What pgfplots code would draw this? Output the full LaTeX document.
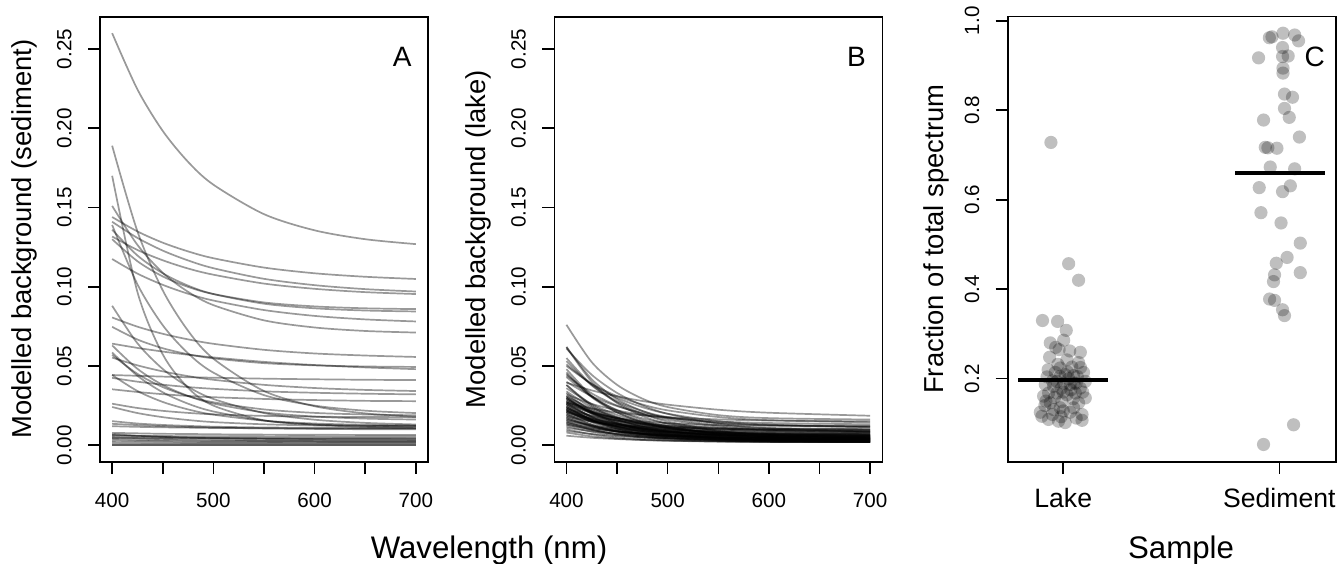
\documentclass[border=0pt]{standalone}
\usepackage{fontspec}
\setmainfont{Liberation Sans}
\usepackage{pgfplots}
\pgfplotsset{compat=1.18}
\tikzset{plab/.style={font=\fontsize{14}{16}\selectfont}}
\pgfplotsset{
  rbox/.style={
    scale only axis, width=164pt, height=222.5pt,
    axis line style={line width=0.8pt},
    major tick style={black, line width=0.8pt},
    tick align=outside, major tick length=6pt,
    xtick pos=left, ytick pos=left,
    /pgf/number format/assume math mode=true,
    tick label style={font=\fontsize{10.3}{12}\selectfont},
    yticklabel style={rotate=90, anchor=south, inner sep=0pt},
    xticklabel style={anchor=north, inner sep=0pt},
    yticklabel shift=8pt, xticklabel shift=9.5pt,
    every axis y label/.style={at={(axis description cs:-0.2088,0.5)}, rotate=90, anchor=base, font=\fontsize{13.7}{16}\selectfont},
  },
  wl/.style={
    xmin=388, xmax=712, ymin=-0.0104, ymax=0.2704,
    xtick={400,450,500,550,600,650,700}, xticklabels={400,,500,,600,,700},
    ytick={0,0.05,0.1,0.15,0.2,0.25}, yticklabels={0.00,0.05,0.10,0.15,0.20,0.25},
  },
  curve/.style={black, draw opacity=0.4, line width=0.85pt, smooth},
  dots/.style={only marks, mark=*, mark size=3.3pt, color=black,
    mark options={draw opacity=0, line width=0pt, fill=black, fill opacity=0.25}},
}
\begin{document}%
\begin{tikzpicture}
\path[use as bounding box] (0,0) rectangle (671.5pt,281.5pt);

% ---------- A: sediment ----------
\begin{axis}[rbox, wl, at={(50pt,50.65pt)}, anchor=south west,
  ylabel={Modelled background (sediment)}]
\addplot[curve] coordinates {(400,0.2600)(425,0.2245)(450,0.1983)(475,0.1788)(500,0.1644)(550,0.1458)(600,0.1356)(650,0.1300)(700,0.1269)};
\addplot[curve] coordinates {(400,0.1890)(425,0.1349)(450,0.0977)(475,0.0722)(500,0.0546)(550,0.0342)(600,0.0246)(650,0.0201)(700,0.0179)};
\addplot[curve] coordinates {(400,0.1700)(425,0.0966)(450,0.0573)(475,0.0362)(500,0.0250)(550,0.0157)(600,0.0131)(650,0.0123)(700,0.0121)};
\addplot[curve] coordinates {(400,0.1390)(425,0.1015)(450,0.0757)(475,0.0580)(500,0.0458)(550,0.0316)(600,0.0250)(650,0.0218)(700,0.0203)};
\addplot[curve] coordinates {(400,0.1440)(425,0.1349)(450,0.1278)(475,0.1223)(500,0.1180)(550,0.1121)(600,0.1085)(650,0.1063)(700,0.1049)};
\addplot[curve] coordinates {(400,0.1410)(425,0.1308)(450,0.1228)(475,0.1166)(500,0.1117)(550,0.1050)(600,0.1010)(650,0.0985)(700,0.0970)};
\addplot[curve] coordinates {(400,0.1317)(425,0.1232)(450,0.1167)(475,0.1115)(500,0.1076)(550,0.1020)(600,0.0987)(650,0.0966)(700,0.0954)};
\addplot[curve] coordinates {(400,0.1300)(425,0.1161)(450,0.1065)(475,0.0999)(500,0.0954)(550,0.0901)(600,0.0876)(650,0.0864)(700,0.0859)};
\addplot[curve] coordinates {(400,0.1360)(425,0.1197)(450,0.1085)(475,0.1007)(500,0.0954)(550,0.0893)(600,0.0864)(650,0.0850)(700,0.0844)};
\addplot[curve] coordinates {(400,0.1175)(425,0.1083)(450,0.1012)(475,0.0956)(500,0.0913)(550,0.0853)(600,0.0816)(650,0.0794)(700,0.0781)};
\addplot[curve] coordinates {(400,0.1510)(425,0.1264)(450,0.1088)(475,0.0968)(500,0.0884)(550,0.0788)(600,0.0743)(650,0.0721)(700,0.0711)};
\addplot[curve] coordinates {(400,0.0880)(425,0.0643)(450,0.0481)(475,0.0369)(500,0.0292)(550,0.0203)(600,0.0161)(650,0.0141)(700,0.0131)};
\addplot[curve] coordinates {(400,0.0806)(425,0.0748)(450,0.0703)(475,0.0668)(500,0.0640)(550,0.0602)(600,0.0579)(650,0.0566)(700,0.0557)};
\addplot[curve] coordinates {(400,0.0747)(425,0.0667)(450,0.0612)(475,0.0574)(500,0.0548)(550,0.0518)(600,0.0504)(650,0.0497)(700,0.0494)};
\addplot[curve] coordinates {(400,0.0641)(425,0.0614)(450,0.0591)(475,0.0571)(500,0.0554)(550,0.0526)(600,0.0506)(650,0.0491)(700,0.0480)};
\addplot[curve] coordinates {(400,0.0630)(425,0.0482)(450,0.0380)(475,0.0311)(500,0.0263)(550,0.0207)(600,0.0181)(650,0.0168)(700,0.0162)};
\addplot[curve] coordinates {(400,0.0570)(425,0.0450)(450,0.0367)(475,0.0310)(500,0.0271)(550,0.0226)(600,0.0204)(650,0.0194)(700,0.0189)};
\addplot[curve] coordinates {(400,0.0553)(425,0.0504)(450,0.0466)(475,0.0436)(500,0.0413)(550,0.0381)(600,0.0361)(650,0.0349)(700,0.0342)};
\addplot[curve] coordinates {(400,0.0443)(425,0.0438)(450,0.0433)(475,0.0429)(500,0.0426)(550,0.0420)(600,0.0416)(650,0.0413)(700,0.0411)};
\addplot[curve] coordinates {(400,0.0425)(425,0.0401)(450,0.0382)(475,0.0367)(500,0.0356)(550,0.0340)(600,0.0331)(650,0.0325)(700,0.0321)};
\addplot[curve] coordinates {(400,0.0353)(425,0.0336)(450,0.0322)(475,0.0311)(500,0.0303)(550,0.0292)(600,0.0285)(650,0.0280)(700,0.0278)};
\addplot[curve] coordinates {(400,0.0262)(425,0.0235)(450,0.0217)(475,0.0204)(500,0.0195)(550,0.0185)(600,0.0180)(650,0.0178)(700,0.0177)};
\addplot[curve] coordinates {(400,0.0241)(425,0.0203)(450,0.0177)(475,0.0159)(500,0.0146)(550,0.0132)(600,0.0125)(650,0.0122)(700,0.0120)};
\addplot[curve] coordinates {(400,0.0152)(425,0.0137)(450,0.0128)(475,0.0122)(500,0.0117)(550,0.0112)(600,0.0110)(650,0.0109)(700,0.0108)};
\addplot[curve] coordinates {(400,0.0135)(425,0.0127)(450,0.0120)(475,0.0115)(500,0.0112)(550,0.0106)(600,0.0103)(650,0.0101)(700,0.0100)};
\addplot[curve] coordinates {(400,0.0120)(425,0.0116)(450,0.0113)(475,0.0111)(500,0.0109)(550,0.0107)(600,0.0106)(650,0.0105)(700,0.0105)};
\addplot[curve] coordinates {(400,0.0078)(425,0.0075)(450,0.0072)(475,0.0071)(500,0.0069)(550,0.0067)(600,0.0066)(650,0.0065)(700,0.0065)};
\addplot[curve] coordinates {(400,0.0065)(425,0.0057)(450,0.0052)(475,0.0048)(500,0.0046)(550,0.0043)(600,0.0041)(650,0.0041)(700,0.0040)};
\addplot[curve] coordinates {(400,0.0060)(425,0.0059)(450,0.0058)(475,0.0057)(500,0.0057)(550,0.0056)(600,0.0056)(650,0.0055)(700,0.0055)};
\addplot[curve] coordinates {(400,0.0052)(425,0.0045)(450,0.0040)(475,0.0037)(500,0.0035)(550,0.0032)(600,0.0031)(650,0.0030)(700,0.0030)};
\addplot[curve] coordinates {(400,0.0045)(425,0.0045)(450,0.0045)(475,0.0045)(500,0.0045)(550,0.0045)(600,0.0045)(650,0.0045)(700,0.0045)};
\addplot[curve] coordinates {(400,0.0040)(425,0.0035)(450,0.0032)(475,0.0030)(500,0.0028)(550,0.0027)(600,0.0026)(650,0.0025)(700,0.0025)};
\addplot[curve] coordinates {(400,0.0030)(425,0.0027)(450,0.0025)(475,0.0023)(500,0.0022)(550,0.0021)(600,0.0021)(650,0.0020)(700,0.0020)};
\addplot[curve] coordinates {(400,0.0020)(425,0.0018)(450,0.0017)(475,0.0016)(500,0.0016)(550,0.0015)(600,0.0015)(650,0.0015)(700,0.0015)};
\addplot[curve] coordinates {(400,0.0010)(425,0.0010)(450,0.0010)(475,0.0010)(500,0.0010)(550,0.0010)(600,0.0010)(650,0.0010)(700,0.0010)};
\addplot[curve] coordinates {(400,0.0000)(425,0.0000)(450,0.0000)(475,0.0000)(500,0.0000)(550,0.0000)(600,0.0000)(650,0.0000)(700,0.0000)};
\addplot[curve] coordinates {(400,0.0001)(425,0.0001)(450,0.0001)(475,0.0001)(500,0.0001)(550,0.0001)(600,0.0001)(650,0.0001)(700,0.0001)};
\addplot[curve] coordinates {(400,0.0070)(425,0.0060)(450,0.0053)(475,0.0048)(500,0.0044)(550,0.0040)(600,0.0037)(650,0.0036)(700,0.0035)};
\addplot[curve] coordinates {(400,0.0585)(425,0.0438)(450,0.0334)(475,0.0262)(500,0.0213)(550,0.0156)(600,0.0129)(650,0.0116)(700,0.0110)};
\addplot[curve] coordinates {(400,0.0443)(425,0.0342)(450,0.0273)(475,0.0226)(500,0.0193)(550,0.0155)(600,0.0137)(650,0.0129)(700,0.0125)};
\node[plab] at (rel axis cs:0.921,0.91) {A};
\end{axis}

% ---------- B: lake ----------
\begin{axis}[rbox, wl, at={(277.15pt,50.65pt)}, anchor=south west,
  ylabel={Modelled background (lake)}]
\addplot[curve] coordinates {(400,0.0760)(425,0.0524)(450,0.0381)(475,0.0294)(500,0.0241)(550,0.0190)(600,0.0171)(700,0.0162)};
\addplot[curve] coordinates {(400,0.0395)(425,0.0346)(450,0.0309)(475,0.0279)(500,0.0256)(550,0.0224)(600,0.0205)(700,0.0186)};
\addplot[curve] coordinates {(400,0.0620)(425,0.0416)(450,0.0291)(475,0.0216)(500,0.0170)(550,0.0126)(600,0.0109)(700,0.0101)};
\addplot[curve] coordinates {(400,0.0620)(425,0.0400)(450,0.0266)(475,0.0185)(500,0.0136)(550,0.0088)(600,0.0070)(700,0.0061)};
\addplot[curve] coordinates {(400,0.0610)(425,0.0444)(450,0.0330)(475,0.0252)(500,0.0198)(550,0.0136)(600,0.0107)(700,0.0086)};
\addplot[curve] coordinates {(400,0.0550)(425,0.0381)(450,0.0278)(475,0.0216)(500,0.0178)(550,0.0142)(600,0.0128)(700,0.0121)};
\addplot[curve] coordinates {(400,0.0530)(425,0.0377)(450,0.0271)(475,0.0199)(500,0.0149)(550,0.0091)(600,0.0065)(700,0.0045)};
\addplot[curve] coordinates {(400,0.0500)(425,0.0387)(450,0.0310)(475,0.0257)(500,0.0220)(550,0.0178)(600,0.0158)(700,0.0144)};
\addplot[curve] coordinates {(400,0.0480)(425,0.0311)(450,0.0208)(475,0.0146)(500,0.0108)(550,0.0072)(600,0.0058)(700,0.0051)};
\addplot[curve] coordinates {(400,0.0450)(425,0.0309)(450,0.0222)(475,0.0170)(500,0.0139)(550,0.0108)(600,0.0096)(700,0.0091)};
\addplot[curve] coordinates {(400,0.0430)(425,0.0305)(450,0.0219)(475,0.0160)(500,0.0119)(550,0.0072)(600,0.0050)(700,0.0034)};
\addplot[curve] coordinates {(400,0.0400)(425,0.0309)(450,0.0247)(475,0.0204)(500,0.0175)(550,0.0140)(600,0.0125)(700,0.0113)};
\addplot[curve] coordinates {(400,0.0380)(425,0.0254)(450,0.0178)(475,0.0131)(500,0.0103)(550,0.0076)(600,0.0066)(700,0.0061)};
\addplot[curve] coordinates {(400,0.0360)(425,0.0260)(450,0.0191)(475,0.0144)(500,0.0111)(550,0.0074)(600,0.0056)(700,0.0044)};
\addplot[curve] coordinates {(400,0.0340)(425,0.0238)(450,0.0176)(475,0.0138)(500,0.0115)(550,0.0093)(600,0.0085)(700,0.0081)};
\addplot[curve] coordinates {(400,0.0330)(425,0.0212)(450,0.0140)(475,0.0097)(500,0.0071)(550,0.0045)(600,0.0035)(700,0.0031)};
\addplot[curve] coordinates {(400,0.0320)(425,0.0261)(450,0.0220)(475,0.0192)(500,0.0172)(550,0.0150)(600,0.0140)(700,0.0132)};
\addplot[curve] coordinates {(400,0.0310)(425,0.0229)(450,0.0173)(475,0.0135)(500,0.0108)(550,0.0077)(600,0.0063)(700,0.0053)};
\addplot[curve] coordinates {(400,0.0300)(425,0.0210)(450,0.0155)(475,0.0121)(500,0.0101)(550,0.0082)(600,0.0074)(700,0.0071)};
\addplot[curve] coordinates {(400,0.0300)(425,0.0198)(450,0.0136)(475,0.0098)(500,0.0075)(550,0.0053)(600,0.0045)(700,0.0041)};
\addplot[curve] coordinates {(400,0.0290)(425,0.0215)(450,0.0170)(475,0.0142)(500,0.0126)(550,0.0110)(600,0.0103)(700,0.0100)};
\addplot[curve] coordinates {(400,0.0290)(425,0.0205)(450,0.0147)(475,0.0108)(500,0.0080)(550,0.0048)(600,0.0034)(700,0.0023)};
\addplot[curve] coordinates {(400,0.0280)(425,0.0211)(450,0.0164)(475,0.0132)(500,0.0109)(550,0.0083)(600,0.0071)(700,0.0062)};
\addplot[curve] coordinates {(400,0.0270)(425,0.0176)(450,0.0118)(475,0.0084)(500,0.0062)(550,0.0042)(600,0.0034)(700,0.0031)};
\addplot[curve] coordinates {(400,0.0270)(425,0.0211)(450,0.0170)(475,0.0142)(500,0.0122)(550,0.0100)(600,0.0090)(700,0.0082)};
\addplot[curve] coordinates {(400,0.0260)(425,0.0177)(450,0.0127)(475,0.0097)(500,0.0078)(550,0.0061)(600,0.0054)(700,0.0051)};
\addplot[curve] coordinates {(400,0.0260)(425,0.0205)(450,0.0172)(475,0.0151)(500,0.0139)(550,0.0127)(600,0.0123)(700,0.0120)};
\addplot[curve] coordinates {(400,0.0250)(425,0.0160)(450,0.0105)(475,0.0071)(500,0.0051)(550,0.0032)(600,0.0024)(700,0.0021)};
\addplot[curve] coordinates {(400,0.0250)(425,0.0184)(450,0.0139)(475,0.0108)(500,0.0087)(550,0.0062)(600,0.0051)(700,0.0042)};
\addplot[curve] coordinates {(400,0.0240)(425,0.0173)(450,0.0133)(475,0.0108)(500,0.0093)(550,0.0079)(600,0.0073)(700,0.0070)};
\addplot[curve] coordinates {(400,0.0240)(425,0.0157)(450,0.0107)(475,0.0077)(500,0.0058)(550,0.0041)(600,0.0034)(700,0.0031)};
\addplot[curve] coordinates {(400,0.0230)(425,0.0186)(450,0.0156)(475,0.0136)(500,0.0121)(550,0.0105)(600,0.0097)(700,0.0092)};
\addplot[curve] coordinates {(400,0.0230)(425,0.0159)(450,0.0116)(475,0.0090)(500,0.0074)(550,0.0059)(600,0.0053)(700,0.0050)};
\addplot[curve] coordinates {(400,0.0230)(425,0.0164)(450,0.0119)(475,0.0088)(500,0.0067)(550,0.0042)(600,0.0031)(700,0.0022)};
\addplot[curve] coordinates {(400,0.0220)(425,0.0157)(450,0.0119)(475,0.0096)(500,0.0082)(550,0.0068)(600,0.0063)(700,0.0060)};
\addplot[curve] coordinates {(400,0.0220)(425,0.0149)(450,0.0106)(475,0.0080)(500,0.0064)(550,0.0049)(600,0.0043)(700,0.0040)};
\addplot[curve] coordinates {(400,0.0210)(425,0.0154)(450,0.0115)(475,0.0089)(500,0.0070)(550,0.0049)(600,0.0039)(700,0.0032)};
\addplot[curve] coordinates {(400,0.0210)(425,0.0159)(450,0.0128)(475,0.0109)(500,0.0098)(550,0.0087)(600,0.0082)(700,0.0080)};
\addplot[curve] coordinates {(400,0.0200)(425,0.0129)(450,0.0086)(475,0.0060)(500,0.0044)(550,0.0029)(600,0.0023)(700,0.0020)};
\addplot[curve] coordinates {(400,0.0200)(425,0.0153)(450,0.0121)(475,0.0099)(500,0.0083)(550,0.0066)(600,0.0058)(700,0.0052)};
\addplot[curve] coordinates {(400,0.0190)(425,0.0131)(450,0.0095)(475,0.0073)(500,0.0060)(550,0.0048)(600,0.0043)(700,0.0040)};
\addplot[curve] coordinates {(400,0.0190)(425,0.0149)(450,0.0121)(475,0.0102)(500,0.0089)(550,0.0074)(600,0.0067)(700,0.0061)};
\addplot[curve] coordinates {(400,0.0180)(425,0.0121)(450,0.0085)(475,0.0063)(500,0.0050)(550,0.0038)(600,0.0033)(700,0.0030)};
\addplot[curve] coordinates {(400,0.0180)(425,0.0149)(450,0.0129)(475,0.0118)(500,0.0111)(550,0.0104)(600,0.0101)(700,0.0100)};
\addplot[curve] coordinates {(400,0.0170)(425,0.0123)(450,0.0091)(475,0.0069)(500,0.0053)(550,0.0036)(600,0.0028)(700,0.0022)};
\addplot[curve] coordinates {(400,0.0170)(425,0.0119)(450,0.0088)(475,0.0069)(500,0.0058)(550,0.0047)(600,0.0042)(700,0.0040)};
\addplot[curve] coordinates {(400,0.0160)(425,0.0125)(450,0.0103)(475,0.0090)(500,0.0082)(550,0.0075)(600,0.0072)(700,0.0070)};
\addplot[curve] coordinates {(400,0.0160)(425,0.0119)(450,0.0091)(475,0.0072)(500,0.0059)(550,0.0044)(600,0.0037)(700,0.0031)};
\addplot[curve] coordinates {(400,0.0150)(425,0.0111)(450,0.0087)(475,0.0072)(500,0.0064)(550,0.0055)(600,0.0052)(700,0.0050)};
\addplot[curve] coordinates {(400,0.0150)(425,0.0099)(450,0.0068)(475,0.0049)(500,0.0038)(550,0.0027)(600,0.0022)(700,0.0020)};
\addplot[curve] coordinates {(400,0.0140)(425,0.0109)(450,0.0087)(475,0.0073)(500,0.0062)(550,0.0051)(600,0.0045)(700,0.0041)};
\addplot[curve] coordinates {(400,0.0140)(425,0.0097)(450,0.0070)(475,0.0055)(500,0.0045)(550,0.0036)(600,0.0032)(700,0.0030)};
\addplot[curve] coordinates {(400,0.0130)(425,0.0102)(450,0.0086)(475,0.0076)(500,0.0069)(550,0.0064)(600,0.0061)(700,0.0060)};
\addplot[curve] coordinates {(400,0.0130)(425,0.0096)(450,0.0072)(475,0.0056)(500,0.0045)(550,0.0032)(600,0.0026)(700,0.0021)};
\addplot[curve] coordinates {(400,0.0120)(425,0.0085)(450,0.0063)(475,0.0050)(500,0.0042)(550,0.0035)(600,0.0032)(700,0.0030)};
\addplot[curve] coordinates {(400,0.0110)(425,0.0088)(450,0.0073)(475,0.0063)(500,0.0056)(550,0.0047)(600,0.0044)(700,0.0041)};
\addplot[curve] coordinates {(400,0.0100)(425,0.0069)(450,0.0049)(475,0.0038)(500,0.0031)(550,0.0024)(600,0.0021)(700,0.0020)};
\addplot[curve] coordinates {(400,0.0090)(425,0.0071)(450,0.0058)(475,0.0050)(500,0.0043)(550,0.0036)(600,0.0033)(700,0.0031)};
\addplot[curve] coordinates {(400,0.0080)(425,0.0056)(450,0.0042)(475,0.0033)(500,0.0028)(550,0.0023)(600,0.0021)(700,0.0020)};
\addplot[curve] coordinates {(400,0.0060)(425,0.0047)(450,0.0039)(475,0.0033)(500,0.0029)(550,0.0024)(600,0.0022)(700,0.0020)};
\addplot[curve] coordinates {(400,0.0300)(425,0.0202)(450,0.0142)(475,0.0106)(500,0.0084)(550,0.0063)(600,0.0055)(700,0.0051)};
\addplot[curve] coordinates {(400,0.0310)(425,0.0222)(450,0.0162)(475,0.0121)(500,0.0092)(550,0.0059)(600,0.0044)(700,0.0033)};
\addplot[curve] coordinates {(400,0.0260)(425,0.0181)(450,0.0134)(475,0.0105)(500,0.0087)(550,0.0070)(600,0.0064)(700,0.0061)};
\addplot[curve] coordinates {(400,0.0280)(425,0.0205)(450,0.0153)(475,0.0118)(500,0.0094)(550,0.0065)(600,0.0052)(700,0.0043)};
\addplot[curve] coordinates {(400,0.0220)(425,0.0167)(450,0.0130)(475,0.0105)(500,0.0088)(550,0.0068)(600,0.0059)(700,0.0052)};
\addplot[curve] coordinates {(400,0.0220)(425,0.0145)(450,0.0100)(475,0.0072)(500,0.0056)(550,0.0040)(600,0.0033)(700,0.0030)};
\addplot[curve] coordinates {(400,0.0210)(425,0.0166)(450,0.0136)(475,0.0116)(500,0.0101)(550,0.0085)(600,0.0077)(700,0.0072)};
\addplot[curve] coordinates {(400,0.0240)(425,0.0161)(450,0.0114)(475,0.0085)(500,0.0067)(550,0.0050)(600,0.0044)(700,0.0041)};
\addplot[curve] coordinates {(400,0.0270)(425,0.0199)(450,0.0156)(475,0.0130)(500,0.0114)(550,0.0099)(600,0.0093)(700,0.0090)};
\addplot[curve] coordinates {(400,0.0460)(425,0.0303)(450,0.0207)(475,0.0149)(500,0.0114)(550,0.0080)(600,0.0067)(700,0.0061)};
\addplot[curve] coordinates {(400,0.0510)(425,0.0385)(450,0.0299)(475,0.0240)(500,0.0199)(550,0.0152)(600,0.0130)(700,0.0114)};
\addplot[curve] coordinates {(400,0.0440)(425,0.0327)(450,0.0250)(475,0.0197)(500,0.0160)(550,0.0118)(600,0.0098)(700,0.0084)};
\addplot[curve] coordinates {(400,0.0380)(425,0.0246)(450,0.0165)(475,0.0116)(500,0.0086)(550,0.0057)(600,0.0046)(700,0.0041)};
\addplot[curve] coordinates {(400,0.0270)(425,0.0232)(450,0.0207)(475,0.0189)(500,0.0177)(550,0.0163)(600,0.0156)(700,0.0151)};
\node[plab] at (rel axis cs:0.921,0.91) {B};
\end{axis}

% ---------- C: fraction ----------
\begin{axis}[rbox, at={(503.85pt,50.65pt)}, anchor=south west,
  xmin=0.743, xmax=2.261, ymin=0.0145, ymax=1.009,
  xtick={1,2}, xticklabels={Lake,Sediment},
  xticklabel style={font=\fontsize{13.3}{16}\selectfont}, xticklabel shift=7pt,
  ytick={0.2,0.4,0.6,0.8,1.0}, yticklabels={0.2,0.4,0.6,0.8,1.0},
  ylabel={Fraction of total spectrum},
  every axis y label/.append style={at={(axis description cs:-0.196,0.5)}}]
% Lake
\addplot[dots] coordinates {
(0.943,0.728)(1.025,0.457)(1.071,0.420)(0.904,0.330)(0.974,0.328)(1.014,0.308)
(0.940,0.280)(1.002,0.286)(0.981,0.265)(1.079,0.259)(0.937,0.248)(1.017,0.242)
(1.071,0.236)(0.986,0.224)(1.040,0.226)(0.963,0.214)(1.094,0.214)(0.925,0.204)
(1.048,0.207)(1.009,0.209)(1.102,0.194)(0.917,0.187)(0.955,0.183)(1.032,0.187)
(1.079,0.179)(0.909,0.161)(0.971,0.168)(1.017,0.164)(1.102,0.157)(0.940,0.146)
(0.994,0.149)(1.071,0.146)(0.894,0.125)(0.955,0.131)(1.032,0.125)(1.087,0.120)
(0.932,0.109)(0.978,0.105)(1.009,0.102)(1.087,0.107)(0.901,0.116)(0.971,0.194)
(1.002,0.190)(1.056,0.168)(0.932,0.168)(0.986,0.135)(1.048,0.135)
(0.950,0.195)(0.990,0.178)(1.025,0.200)(1.060,0.190)(0.920,0.150)(0.960,0.158)
(1.000,0.170)(1.045,0.155)(1.090,0.170)(0.930,0.220)(0.975,0.232)(1.020,0.215)
(1.065,0.205)(0.950,0.120)(1.000,0.128)(1.060,0.112)(0.915,0.140)(1.035,0.175)
(0.985,0.205)(1.080,0.225)(0.965,0.270)(1.030,0.262)(0.990,0.115)(1.050,0.190)};
% Sediment
\addplot[dots] coordinates {
(1.966,0.964)(2.017,0.972)(2.071,0.968)(2.089,0.955)(1.954,0.962)(1.904,0.917)
(2.015,0.940)(2.015,0.920)(2.041,0.921)(2.017,0.894)(2.017,0.883)(2.024,0.836)
(2.061,0.829)(2.024,0.804)(2.046,0.784)(1.927,0.778)(2.093,0.740)(1.935,0.717)
(1.947,0.716)(1.989,0.715)(1.958,0.673)(2.071,0.669)(1.907,0.627)(2.015,0.618)
(2.051,0.631)(1.915,0.571)(2.008,0.548)(2.097,0.503)(2.036,0.471)(1.986,0.458)
(1.978,0.432)(1.973,0.417)(2.097,0.437)(1.955,0.378)(1.978,0.375)(2.015,0.354)
(2.024,0.341)(2.066,0.097)(1.927,0.053)};
\addplot[black, line width=1.7pt] coordinates {(0.792,0.197)(1.208,0.197)};
\addplot[black, line width=1.7pt] coordinates {(1.796,0.660)(2.213,0.660)};
\node[plab] at (rel axis cs:0.936,0.91) {C};
\end{axis}

\node[font=\fontsize{15.6}{18}\selectfont, anchor=base] at (244.5pt,2.5pt) {Wavelength (nm)};
\node[font=\fontsize{15.6}{18}\selectfont, anchor=base] at (590.5pt,2.5pt) {Sample};
\end{tikzpicture}%
\end{document}
